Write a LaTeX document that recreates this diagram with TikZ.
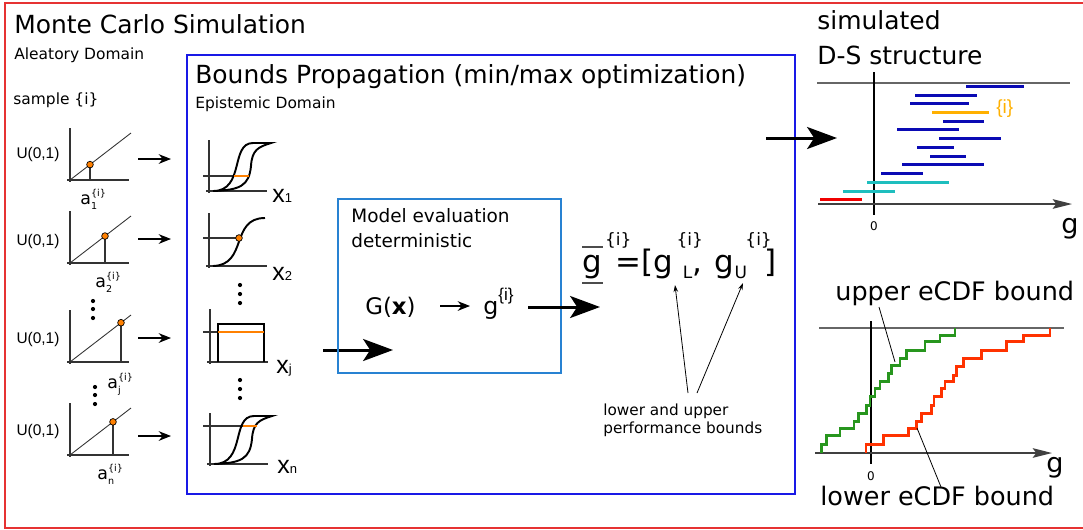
\documentclass[tikz,border=0pt]{standalone}
\usepackage{fontspec}
\setmainfont{DejaVu Sans}
\newfontfamily\arialfont{Liberation Sans}
\usetikzlibrary{arrows.meta,positioning}

\definecolor{framered}{RGB}{230,50,50}
\definecolor{boundsblue}{RGB}{25,25,230}
\definecolor{modelblue}{RGB}{40,130,210}
\definecolor{dotorange}{RGB}{255,128,0}
\definecolor{dsblue}{RGB}{10,10,180}
\definecolor{dsorange}{RGB}{255,176,0}
\definecolor{dscyan}{RGB}{30,190,190}
\definecolor{dsred}{RGB}{240,0,0}
\definecolor{cdfgreen}{RGB}{40,150,30}
\definecolor{cdfred}{RGB}{255,50,0}

\newcommand\fsz[2]{\fontsize{#1pt}{#2pt}\selectfont}
% raised / lowered small text
\newcommand\sps[2][0.6em]{\raisebox{#1}{\fontsize{0.55em}{0.55em}\selectfont #2}}
\newcommand\sbs[2][-0.3em]{\raisebox{#1}{\fontsize{0.55em}{0.55em}\selectfont #2}}
\newcommand\xvar[1]{{\arialfont\fsz{14.2}{17}x{\fsz{7.4}{8}#1}}}

\begin{document}
\begin{tikzpicture}[x=0.02cm, y=-0.02cm,
    txt/.style={inner sep=0pt, anchor=base west},
    axis/.style={black!80, line width=0.6pt},
    curve/.style={black, line width=1.1pt},
    level/.style={dotorange, line width=1.2pt},
    pickarrow/.style={-{Stealth[length=7pt,width=5.5pt]}, line width=0.7pt},
    bigarrow/.style={-{Stealth[length=17pt,width=12.5pt,inset=4pt]}, line width=1.7pt},
    leader/.style={-{Stealth[length=4pt,width=2.6pt]}, line width=0.45pt},
    axisarrow/.style={-{Stealth[length=11pt,width=5.5pt,inset=2pt]}, black!75, line width=0.8pt},
    samplept/.style={circle, draw=black, line width=0.4pt, fill=dotorange, inner sep=0pt, minimum size=3.8pt},
    vdot/.style={circle, fill=black, inner sep=0pt, minimum size=2.4pt},
    interval/.style={line width=1.7pt},
    stairs/.style={line width=1.7pt}]

    \useasboundingbox (0,0) rectangle (1083,529);

    % --- Monte Carlo frame ---
    \draw[framered, line width=0.6pt] (5,3) rectangle (1095,528);
    \node[txt, font=\fsz{14.2}{17}] (title) at (14,33) {Monte Carlo Simulation};
    \node[txt, font=\fsz{8.8}{10.5}] (aleatory) at (14,59) {Aleatory Domain};
    \node[txt, font=\fsz{8.8}{10.5}] (sample) at (13,104) {sample \{i\}};

    % --- uniform samples a^{i} ---
    \foreach \ix/\oy/\d/\uy/\ay/\lx/\ly in {1/180/20/154/159/80/204, 2/263/35/241/239/95/287,
        j/362/51/339/338/107/388, n/455/43/431/436/97/479}{
        \draw[axis] (70,\oy-52) -- (70,\oy+2);
        \draw[axis] (67,\oy) -- (129,\oy);
        \draw[axis, line width=0.5pt] (70,\oy) -- (131,\oy-47);
        \draw[axis] (70+\d,\oy) -- (70+\d,{\oy-\d*47/61});
        \node[samplept] (s\ix) at (70+\d,{\oy-\d*47/61}) {};
        \node[font=\arialfont\fsz{8.8}{10}, inner sep=0pt] (u\ix) at (38,\uy) {U(0,1)};
        \node[txt, font=\fsz{9.9}{11}] (a\ix) at (\lx,\ly) {a\rlap{\sbs{\ix}}\sps[0.45em]{\{i\}}};
        \draw[pickarrow] (138,\ay) -- (171,\ay);
    }
    \foreach \y in {301,309,318} \node[vdot] (la\y) at (93,\y) {};
    \foreach \y in {387,395,404} \node[vdot] (lb\y) at (95,\y) {};

    % --- Bounds propagation box ---
    \draw[boundsblue, line width=1.1pt] (187,55) rectangle (795,494);
    \node[txt, font=\fsz{14.2}{17}] (bounds) at (195,83) {Bounds Propagation (min/max optimization)};
    \node[txt, font=\fsz{8.8}{10.5}] (epistemic) at (195,108) {Epistemic Domain};

    % x_1 (p-box)
    \draw[axis] (209,140) -- (209,193);
    \draw[axis] (206,191) -- (267,191);
    \draw[axis] (203,176) -- (234,176);
    \draw[curve] (213,191) .. controls (245,191) and (230,143) .. (253,143) -- (271,143)
        .. controls (258,147) and (252,150) .. (251,166) .. controls (249,186) and (240,190) .. (213,191);
    \draw[level] (234,176) -- (249,176);
    \node[txt] (x1) at (272,202) {\xvar{1}};

    % x_2 (precise cdf)
    \draw[axis] (209,213) -- (209,268);
    \draw[axis] (206,266) -- (267,266);
    \draw[axis] (203,238) -- (239,238);
    \draw[curve] (213,266) .. controls (248,265) and (230,218) .. (265,218);
    \node[samplept] (s2x) at (239,238) {};
    \node[txt] (x2) at (272,280) {\xvar{2}};

    \foreach \y in {285,294,303} \node[vdot] (ma\y) at (240,\y) {};

    % x_j (interval)
    \draw[axis] (210,309) -- (210,364);
    \draw[axis] (207,362) -- (268,362);
    \draw[axis] (203,332) -- (218,332);
    \draw[curve] (218,362) -- (218,324) -- (264,324) -- (264,362);
    \draw[level] (218,332) -- (264,332);
    \node[txt] (xj) at (276,373) {\xvar{j}};

    \foreach \y in {380,389,398} \node[vdot] (mb\y) at (240,\y) {};

    % x_n (p-box)
    \begin{scope}[shift={(1,273)}]
        \draw[axis] (209,140) -- (209,193);
        \draw[axis] (206,191) -- (267,191);
        \draw[axis] (202,153) -- (242,153);
        \draw[curve] (213,191) .. controls (245,191) and (230,143) .. (253,143) -- (271,143)
            .. controls (258,147) and (252,150) .. (251,166) .. controls (249,186) and (240,190) .. (213,191);
        \draw[level] (242,153) -- (256,153);
    \end{scope}
    \node[txt] (xn) at (277,473) {\xvar{n}};

    \draw[bigarrow] (323,350) -- (393,350);

    % --- Model evaluation box ---
    \draw[modelblue, line width=1.1pt] (338,199) rectangle (561,373);
    \node[txt, font=\fsz{10.5}{12.5}] (model) at (351,222) {Model evaluation};
    \node[txt, font=\fsz{10.5}{12.5}] (modelkind) at (351,247) {deterministic};
    \node[txt, font=\fsz{13}{15}] (gx) at (365,314) {G(\textbf{x})};
    \draw[pickarrow] (440,306) -- (470,306);
    \node[txt, font=\fsz{13.5}{15}] (gi) at (483,314) {g\raisebox{0.55em}{\arialfont\fontsize{0.72em}{0.72em}\selectfont\{i\}}};
    \draw[bigarrow] (528,307) -- (600,307);

    % --- interval of performance ---
    \node[txt, font=\fsz{17.6}{20}] (gint) at (582,272)
        {g\rlap{\hspace{0.1em}\sps[0.85em]{\{i\}}}\hspace{0.45em}=[g\rlap{\hspace{0.1em}\sps[0.85em]{\{i\}}}\hspace{0.3em}\sbs[-0.2em]{L},\hspace{0.1em}
         g\rlap{\hspace{0.35em}\sps[0.85em]{\{i\}}}\sbs[-0.2em]{U}\hspace{0.55em}]};
    \draw[black!70, line width=0.8pt] (582,247) -- (603,247);
    \draw[black!70, line width=0.8pt] (582,283) -- (603,283);
    \node[txt, font=\fsz{8.7}{10.2}] (perf) at (603,415) {lower and upper};
    \node[txt, font=\fsz{8.7}{10.2}] (perfb) at (603,433) {performance bounds};
    \draw[leader] (688,393) -- (675,285);
    \draw[leader] (697,393) -- (743,283);

    % --- simulated D-S structure ---
    \node[txt, font=\fsz{14.2}{17}] (simulated) at (817,29) {simulated};
    \node[txt, font=\fsz{14.2}{17}] (dsname) at (817,64) {D-S structure};
    \draw[bigarrow] (766,138) -- (837,138);
    \draw[black!60, line width=0.7pt] (817,83) -- (1070,83);
    \draw[black, line width=0.9pt] (874,72) -- (874,215);
    \draw[axisarrow] (818,204) -- (1072,204);
    \node[font=\fsz{6.8}{8}, inner sep=0pt] (dszero) at (874,226) {0};
    \node[txt, font=\fsz{15.4}{18}] (dsg) at (1061,233) {g};
    \foreach \y/\a/\b/\c in {86/966/1024/dsblue, 95/915/977/dsblue, 103/910/969/dsblue,
        112/932/989/dsorange, 121/943/984/dsblue, 129/897/959/dsblue, 138/939/1001/dsblue,
        147/917/954/dsblue, 156/930/966/dsblue, 164/902/984/dsblue, 173/881/923/dsblue,
        182/867/949/dscyan, 191/843/895/dscyan, 199/820/862/dsred}
        \draw[interval, \c] (\a,\y) -- (\b,\y);
    \node[txt, font=\arialfont\fsz{10.8}{12}, text=dsorange] (ilabel) at (996,113) {\{i\}};

    % --- eCDF bounds ---
    \node[txt, font=\fsz{14.5}{17}] (upper) at (835,300) {upper eCDF bound};
    \node[txt, font=\fsz{14.5}{17}] (lower) at (820,505) {lower eCDF bound};
    \draw[black!60, line width=0.7pt] (819,328) -- (1064,328);
    \draw[black, line width=0.9pt] (871,321) -- (871,464);
    \draw[axisarrow] (815,453) -- (1052,453);
    \node[font=\fsz{6.8}{8}, inner sep=0pt] (cdfzero) at (871,476) {0};
    \node[txt, font=\fsz{15.4}{18}] (cdfg) at (1046,472) {g};
    \begin{scope}[shift={(760,260)}, scale=1/3]
        \draw[stairs, cdfgreen] (185,578) |- (200,552) |- (240,527) |- (282,505) |- (295,485)
            |- (320,460) |- (330,435) |- (345,410) |- (360,385) |- (385,365) |- (395,340)
            |- (420,315) |- (440,295) |- (495,270) |- (540,245) |- (585,225) -- (585,205);
        \draw[stairs, cdfred] (318,578) |- (370,553) |- (445,527) |- (470,505) |- (485,485)
            |- (515,460) |- (522,435) |- (545,410) |- (555,385) |- (580,365) |- (590,345)
            |- (610,320) |- (665,295) |- (740,270) |- (790,245) |- (870,225) -- (870,205);
    \end{scope}
    \draw[black, line width=0.45pt] (879,307) -- (895,362);
    \draw[black, line width=0.45pt] (917,428) -- (941,487);

\end{tikzpicture}
\end{document}
